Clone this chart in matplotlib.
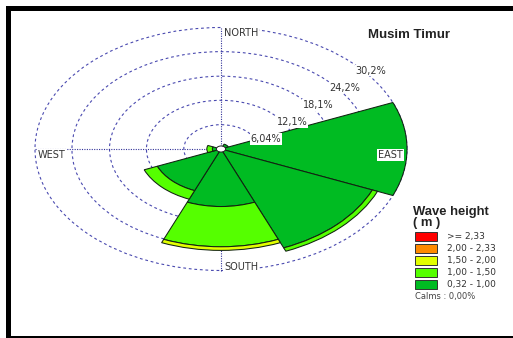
import numpy as np
import matplotlib
matplotlib.use("Agg")
import matplotlib.pyplot as plt
from matplotlib.patches import Wedge, Circle, Rectangle

# Frequency (%) per direction for each wave height class
directions = ["N", "NE", "E", "SE", "S", "SW", "W", "NW"]
compass_deg = [0, 45, 90, 135, 180, 225, 270, 315]
bin_labels = ["0,32 - 1,00", "1,00 - 1,50", "1,50 - 2,00", "2,00 - 2,33", ">= 2,33"]
h_032_100 = [0.0, 1.3, 30.2, 26.6, 14.3, 11.2, 1.4, 0.0]
h_100_150 = [0.0, 0.0, 0.0, 0.9, 10.0, 2.3, 0.9, 0.0]
h_150_200 = [0.0, 0.0, 0.0, 0.0, 0.9, 0.0, 0.0, 0.0]
h_200_233 = [0.0, 0.0, 0.0, 0.0, 0.0, 0.0, 0.0, 0.0]
h_233_up = [0.0, 0.0, 0.0, 0.0, 0.0, 0.0, 0.0, 0.0]
ring_values = [6.04, 12.1, 18.1, 24.2, 30.2]
ring_labels = ["6,04%", "12,1%", "18,1%", "24,2%", "30,2%"]
calms_label = "Calms : 0,00%"
title = "Musim Timur"

colors = ["#00bb22", "#55ff00", "#e2ff00", "#ff8a00", "#ff0000"]

W, H = 513, 338
fig = plt.figure(figsize=(W / 100, H / 100), dpi=100)
fig.patch.set_facecolor("white")


def px(x, y):
    return x / W, 1 - y / H


# rose centre and scale in pixels (the rose is stretched horizontally)
cx, cy = 221, 149
sx = 186 / ring_values[-1]
sy = 121.5 / ring_values[-1]

ax = fig.add_axes([0, 0, 1, 1])
ax.set_xlim(-cx / sx, (W - cx) / sx)
ax.set_ylim(-(H - cy) / sy, cy / sy)
ax.axis("off")

grid_col = "#4a4ab0"
rmax = ring_values[-1]
for r in ring_values:
    ax.add_patch(Circle((0, 0), r, fill=False, ec=grid_col, lw=0.8,
                        ls=(0, (2.5, 2.5)), zorder=1))
ax.plot([0, 0], [-rmax, rmax], color="#333399", lw=0.8, ls=(0, (1, 1.2)), zorder=1)
ax.plot([-rmax, rmax], [0, 0], color="#333399", lw=0.8, ls=(0, (1, 1.2)), zorder=1)

# stacked sectors
bins = [h_032_100, h_100_150, h_150_200, h_200_233, h_233_up]
for i, deg in enumerate(compass_deg):
    t1 = 90 - deg - 22.5
    t2 = 90 - deg + 22.5
    cum = 0.0
    for b, vals in enumerate(bins):
        v = vals[i]
        if v <= 0:
            continue
        cum += v
        ax.add_patch(Wedge((0, 0), cum, t1, t2, width=v, fc=colors[b],
                           ec="#112211", lw=0.75, zorder=3))

ax.add_patch(Circle((0, 0), 0.75, fc="white", ec="#222222", lw=0.7, zorder=5))

lab_kw = dict(fontsize=7, color="#333333", family="DejaVu Sans", zorder=6,
              bbox=dict(fc="white", ec="none", pad=0.6))
for r, lab in zip(ring_values, ring_labels):
    a = np.deg2rad(45)
    ax.text(r * np.sin(a) + 0.5, r * np.cos(a) - 0.6, lab, ha="left", va="top", **lab_kw)

ax.text(0.5, rmax - 1.4, "NORTH", ha="left", va="center", **lab_kw)
ax.text(0.5, -rmax + 0.9, "SOUTH", ha="left", va="center", **lab_kw)
ax.text(-rmax + 0.5, -1.5, "WEST", ha="left", va="center", **lab_kw)
ax.text(rmax - 0.7, -1.5, "EAST", ha="right", va="center", **lab_kw)

# title and legend
fig.text(*px(368, 35), title, fontsize=9.5, fontweight="bold", family="Liberation Sans",
         ha="left", va="center", color="#222222")
fig.text(*px(413, 212), "Wave height", fontsize=9.4, fontweight="bold",
         family="Liberation Sans", ha="left", va="center", color="#222222")
fig.text(*px(413, 223), "( m )", fontsize=9.4, fontweight="bold",
         family="Liberation Sans", ha="left", va="center", color="#222222")

for k in range(5):
    b = 4 - k
    y = 236 + k * 12.1
    x0, y0 = px(415, y + 4.5)
    fig.add_artist(Rectangle((x0, y0), 22 / W, 9 / H, transform=fig.transFigure,
                             fc=colors[b], ec="#333333", lw=0.7))
    fig.text(*px(447, y), bin_labels[b], fontsize=6.5, color="#333333",
             ha="left", va="center")
fig.text(*px(415, 297), calms_label, fontsize=6, color="#444444",
         ha="left", va="center")

# black frame on top, left and bottom
frame = [(6, 6, W - 6, 5), (6, 6, 5, H - 6), (6, H - 2, W - 6, 2)]
for x, y, w, h in frame:
    fig.add_artist(Rectangle((x / W, 1 - (y + h) / H), w / W, h / H,
                             transform=fig.transFigure, fc="black", ec="none"))

fig.savefig("out.png", dpi=100)
